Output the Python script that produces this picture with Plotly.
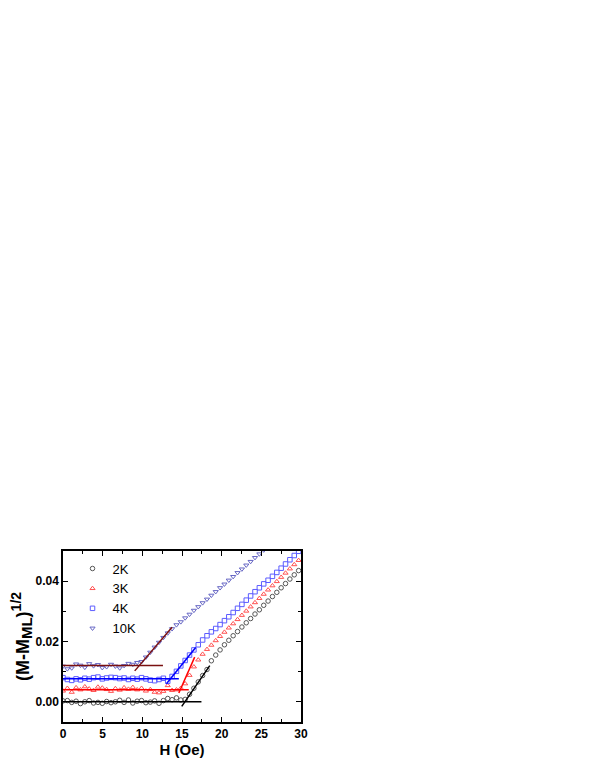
import plotly.graph_objs as go

# -----------------------
# Data
# -----------------------
H = [0.0, 0.55, 1.1, 1.65, 2.2, 2.75, 3.3, 3.85, 4.4, 4.95,
     5.5, 6.05, 6.6, 7.15, 7.7, 8.25, 8.8, 9.35, 9.9, 10.45,
     11.0, 11.55, 12.1, 12.65, 13.2, 13.75, 14.3, 14.85, 15.4, 15.95,
     16.5, 17.05, 17.6, 18.15, 18.7, 19.25, 19.8, 20.35, 20.9, 21.45,
     22.0, 22.55, 23.1, 23.65, 24.2, 24.75, 25.3, 25.85, 26.4, 26.95,
     27.5, 28.05, 28.6, 29.15, 29.7]

y_2K = [0.0003, 0.0004, -0.0002, 0.0002, -0.0006, 0.0000, 0.0004, -0.0004, -0.0002, -0.0005,
        0.0001, -0.0003, 0.0000, 0.0005, -0.0002, 0.0006, -0.0004, 0.0002, 0.0004, -0.0003,
        -0.0001, 0.0003, -0.0005, 0.0004, 0.0011, 0.0007, 0.0013, 0.0006, 0.0008, 0.0025,
        0.0045, 0.0066, 0.0087, 0.0107, 0.0136, 0.0155, 0.0172, 0.0189, 0.0204, 0.0219,
        0.0233, 0.0248, 0.0262, 0.0276, 0.0291, 0.0305, 0.0320, 0.0334, 0.0349, 0.0363,
        0.0378, 0.0392, 0.0407, 0.0421, 0.0435]

y_3K = [0.0036, 0.0045, 0.0032, 0.0047, 0.0040, 0.0050, 0.0043, 0.0038, 0.0049, 0.0046,
        0.0041, 0.0035, 0.0044, 0.0039, 0.0047, 0.0042, 0.0048, 0.0040, 0.0045, 0.0036,
        0.0041, 0.0032, 0.0030, 0.0035, 0.0054, 0.0038, 0.0040, 0.0045, 0.0060, 0.0088,
        0.0116, 0.0139, 0.0158, 0.0174, 0.0188, 0.0203, 0.0217, 0.0231, 0.0245, 0.0259,
        0.0273, 0.0287, 0.0301, 0.0315, 0.0329, 0.0343, 0.0357, 0.0371, 0.0385, 0.0399,
        0.0413, 0.0427, 0.0441, 0.0455, 0.0469]

y_4K = [0.0080, 0.0074, 0.0071, 0.0076, 0.0073, 0.0078, 0.0075, 0.0080, 0.0082, 0.0076,
        0.0079, 0.0081, 0.0080, 0.0077, 0.0079, 0.0074, 0.0078, 0.0075, 0.0080, 0.0076,
        0.0072, 0.0070, 0.0074, 0.0078, 0.0068, 0.0084, 0.0101, 0.0119, 0.0137, 0.0155,
        0.0172, 0.0189, 0.0205, 0.0219, 0.0232, 0.0243, 0.0256, 0.0269, 0.0282, 0.0296,
        0.0310, 0.0323, 0.0337, 0.0351, 0.0365, 0.0378, 0.0391, 0.0403, 0.0416, 0.0429,
        0.0443, 0.0457, 0.0471, 0.0485, 0.0499]

y_10K = [0.0118, 0.0109, 0.0112, 0.0125, 0.0121, 0.0114, 0.0126, 0.0119, 0.0123, 0.0113,
         0.0116, 0.0124, 0.0118, 0.0112, 0.0120, 0.0127, 0.0124, 0.0130, 0.0133, 0.0148,
         0.0164, 0.0181, 0.0197, 0.0213, 0.0228, 0.0242, 0.0255, 0.0265, 0.0278, 0.0290,
         0.0303, 0.0315, 0.0328, 0.0340, 0.0353, 0.0365, 0.0378, 0.0390, 0.0403, 0.0415,
         0.0428, 0.0440, 0.0453, 0.0465, 0.0478, 0.0490, 0.0503, 0.0515, 0.0528, 0.0540,
         0.0553, 0.0565, 0.0578, 0.0590, 0.0603]

# linear fits: (x0, x1), (y0, y1)
fit_2K_flat = ([0, 17.45], [0.0, 0.0])
fit_2K_rise = ([14.97, 18.5], [-0.0015, 0.012])
fit_3K_flat = ([0, 15.85], [0.0040, 0.0040])
fit_3K_rise = ([14.6, 16.6], [0.0029, 0.0148])
fit_4K_flat = ([0, 14.6], [0.0076, 0.0076])
fit_4K_rise = ([13.04, 16.73], [0.006, 0.018])
fit_10K_flat = ([0, 12.6], [0.0120, 0.0120])
fit_10K_rise = ([9.04, 13.75], [0.01025, 0.0247])

FONT = "Arial, Liberation Sans, sans-serif"

fig = go.Figure()

# -------- data markers --------
series = [
    ("2K", y_2K, "circle-open", "#555555"),
    ("3K", y_3K, "triangle-up-open", "#ff5252"),
    ("4K", y_4K, "square-open", "#5c5cff"),
    ("10K", y_10K, "triangle-down-open", "#6666c4"),
]
for name, yv, sym, col in series:
    fig.add_trace(go.Scatter(
        x=H, y=yv, mode="markers", name=name,
        marker=dict(symbol=sym, size=4.5, color=col, line=dict(width=1, color=col))
    ))

# -------- fit lines --------
fits = [
    (fit_2K_flat, "black"), (fit_2K_rise, "black"),
    (fit_3K_flat, "#ff0000"), (fit_3K_rise, "#ff0000"),
    (fit_4K_flat, "#0000ff"), (fit_4K_rise, "#0000ff"),
    (fit_10K_flat, "#7a1010"), (fit_10K_rise, "#7a1010"),
]
for (xs, ys), col in fits:
    fig.add_trace(go.Scatter(
        x=xs, y=ys, mode="lines", showlegend=False,
        line=dict(color=col, width=1.5)
    ))

axis_common = dict(
    showline=True, linecolor="black", linewidth=1.5, mirror="ticks",
    ticks="inside", ticklen=5, tickwidth=1.2, tickcolor="black",
    showgrid=False, zeroline=False,
    tickfont=dict(family=FONT, size=12, color="black", weight="bold"),
)

# page body has an 8px default margin, so the plot box is offset by that
fig.update_layout(
    width=595, height=770,
    margin=dict(l=55, r=302, t=543, b=56),
    paper_bgcolor="white", plot_bgcolor="white",
    font=dict(family=FONT, color="black"),
    xaxis=dict(
        range=[0, 30], dtick=5, tick0=0,
        minor=dict(ticks="inside", dtick=2.5, ticklen=3, tickcolor="black"),
        title=dict(text="<b>H (Oe)</b>", font=dict(size=15, family=FONT), standoff=2),
        **axis_common
    ),
    yaxis=dict(
        range=[-0.0067, 0.05], dtick=0.02, tick0=0, tickformat=".2f",
        minor=dict(ticks="inside", dtick=0.01, ticklen=3, tickcolor="black"),
        title=dict(text="<b>(M-M<sub><span style='font-size:15px'>ML</span></sub>)"
                        "<sup><span style='font-size:14px'>1/2</span></sup></b>",
                   font=dict(size=18, family=FONT), standoff=1),
        **axis_common
    ),
    legend=dict(
        x=0.04, y=0.985, xanchor="left", yanchor="top",
        bgcolor="rgba(0,0,0,0)", font=dict(size=13, family=FONT),
        itemwidth=30, tracegroupgap=0
    ),
    showlegend=True,
)

fig.write_html("out.html")
